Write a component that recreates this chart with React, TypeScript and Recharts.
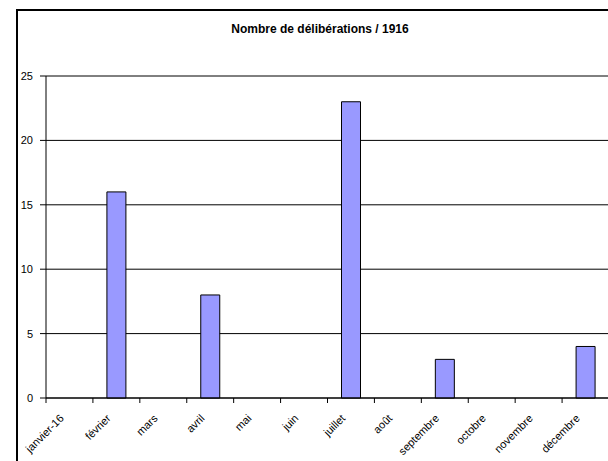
import { BarChart, Bar, XAxis, YAxis, CartesianGrid } from 'recharts';

const months = [
  'janvier-16',
  'février',
  'mars',
  'avril',
  'mai',
  'juin',
  'juillet',
  'août',
  'septembre',
  'octobre',
  'novembre',
  'décembre',
];
const deliberations = [0, 16, 0, 8, 0, 0, 23, 0, 3, 0, 0, 4];
const yTicks = [0, 5, 10, 15, 20, 25];

const data = months.map((month, i) => ({ month, count: deliberations[i] }));

const FONT = 'Liberation Sans, Arial, sans-serif';

// month label rotated 45°, with a tick mark at the left edge of each band
function MonthTick(props: any) {
  const { x, y, payload } = props;
  const half = payload?.offset ?? 23.46;
  return (
    <g transform={`translate(${x},${y})`}>
      <line x1={-half} y1={0} x2={-half} y2={5} stroke="#000" strokeWidth={1} />
      <g transform="translate(-5,21)">
        <text x={0} y={0} textAnchor="end" fontSize={11} fontFamily={FONT} fill="#000" transform="rotate(-45)">
          {payload.value}
        </text>
      </g>
    </g>
  );
}

export default function App() {
  return (
    <div style={{ position: 'fixed', left: 0, top: 0, width: 608, height: 461, overflow: 'hidden', background: '#fff' }}>
      <style>{'html, body { margin: 0; overflow: hidden; }'}</style>
      {/* chart frame: only its top and left edges fall inside the view */}
      <div
        style={{
          position: 'absolute',
          left: 16,
          top: 9,
          width: 600,
          height: 460,
          borderTop: '2px solid #000',
          borderLeft: '2px solid #000',
        }}
      />
      <div
        style={{
          position: 'absolute',
          left: 0,
          top: 23,
          width: 608,
          paddingLeft: 32,
          boxSizing: 'border-box',
          textAlign: 'center',
          fontFamily: FONT,
          fontWeight: 'bold',
          fontSize: 12,
          lineHeight: '13px',
          color: '#000',
        }}
      >
        Nombre de délibérations / 1916
      </div>
      <div style={{ position: 'absolute', left: 0, top: 0, width: 610, height: 461 }}>
        <BarChart width={610} height={461} data={data} margin={{ top: 76, right: 1, bottom: 0, left: 0 }}>
          <CartesianGrid vertical={false} stroke="#000" strokeWidth={1} />
          <XAxis
            dataKey="month"
            height={63}
            interval={0}
            axisLine={{ stroke: '#000' }}
            tickLine={false}
            tickSize={0}
            tickMargin={0}
            tick={<MonthTick />}
          />
          <YAxis
            width={46}
            domain={[0, 25]}
            ticks={yTicks}
            interval={0}
            axisLine={{ stroke: '#000' }}
            tickLine={{ stroke: '#000' }}
            tickSize={6}
            tickMargin={7}
            tick={{ fontSize: 11, fontFamily: FONT, fill: '#000' }}
          />
          <Bar dataKey="count" fill="#9999FF" stroke="#000" strokeWidth={1} barSize={19} isAnimationActive={false} />
        </BarChart>
      </div>
    </div>
  );
}
